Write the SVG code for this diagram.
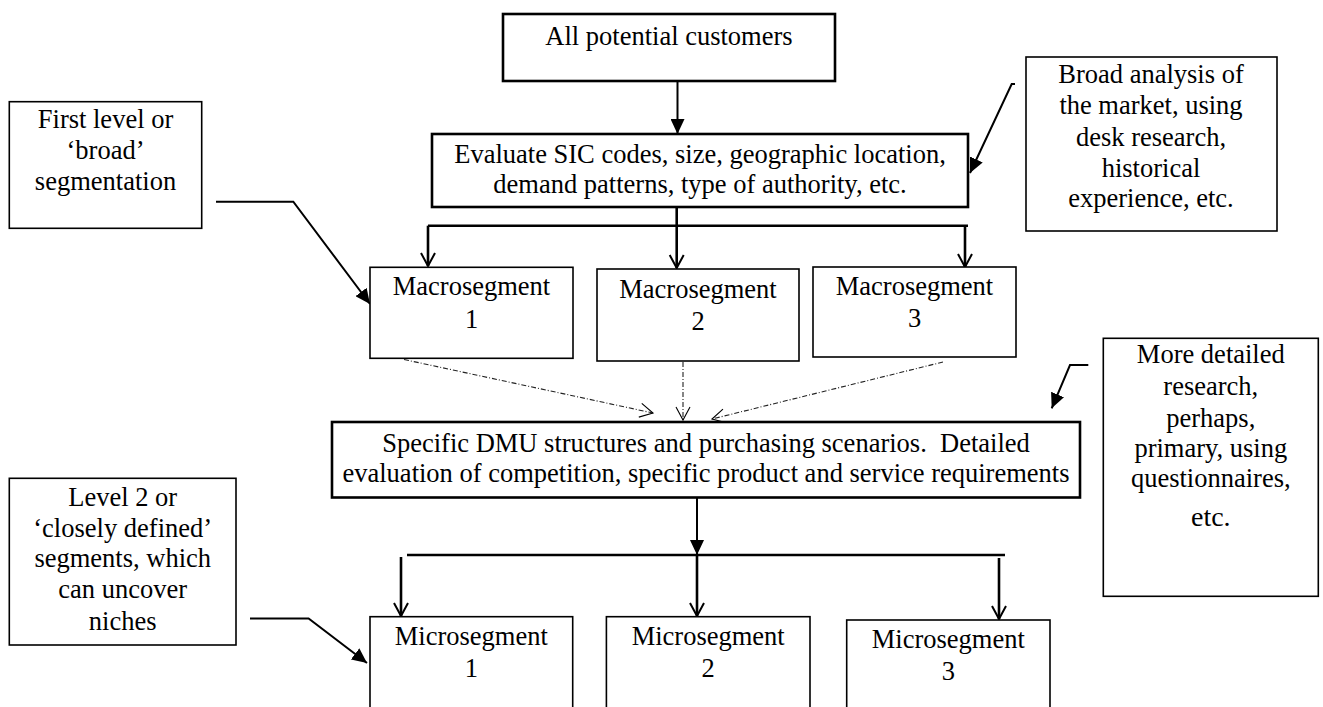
<svg xmlns="http://www.w3.org/2000/svg" width="1323" height="707" viewBox="0 0 1323 707">
  <style>
    .box { fill: #ffffff; stroke: #000000; stroke-width: 1.6; }
    .box-bold { fill: #ffffff; stroke: #000000; stroke-width: 2.6; }
    text { font-family: "Liberation Serif", "Times New Roman", serif; font-size: 26.5px; fill: #000000; text-anchor: middle; }
    .wire { fill: none; stroke: #000000; stroke-width: 2; }
    .wire-bold { fill: none; stroke: #000000; stroke-width: 2.6; }
    .dash { fill: none; stroke: #222222; stroke-width: 1.1; stroke-dasharray: 5 2 1 2; }
  </style>
  <defs>
    <marker id="solid" markerUnits="userSpaceOnUse" markerWidth="16" markerHeight="14" refX="15" refY="7" orient="auto">
      <path d="M0,0 L15,7 L0,14 z" fill="#000000"/>
    </marker>
    <marker id="open" markerUnits="userSpaceOnUse" markerWidth="16" markerHeight="18" refX="14" refY="8" orient="auto">
      <path d="M1,1 L14,8 L1,15" fill="none" stroke="#000000" stroke-width="2"/>
    </marker>
    <marker id="open-thin" markerUnits="userSpaceOnUse" markerWidth="16" markerHeight="18" refX="14" refY="8" orient="auto">
      <path d="M1,1 L14,8 L1,15" fill="none" stroke="#000000" stroke-width="1.1"/>
    </marker>
  </defs>

  <!-- connectors -->
  <g id="connectors">
    <line class="wire" x1="677.5" y1="81" x2="677.5" y2="134" marker-end="url(#solid)"/>
    <line class="wire-bold" x1="676.7" y1="207" x2="676.7" y2="268" marker-end="url(#open)"/>
    <line class="wire-bold" x1="428" y1="225.7" x2="968" y2="225.7"/>
    <line class="wire-bold" x1="428" y1="225.7" x2="428" y2="266" marker-end="url(#open)"/>
    <line class="wire-bold" x1="965" y1="225.7" x2="965" y2="267" marker-end="url(#open)"/>
    <polyline class="wire" points="216,201.7 293.3,201.7 370,304" marker-end="url(#solid)"/>
    <polyline class="wire" points="1015,84 1011.7,84 970,173" marker-end="url(#solid)"/>
    <line class="dash" x1="404" y1="359.5" x2="653" y2="413" marker-end="url(#open-thin)"/>
    <line class="dash" x1="683" y1="362" x2="683" y2="420" marker-end="url(#open-thin)"/>
    <line class="dash" x1="943" y1="362" x2="712" y2="419" marker-end="url(#open-thin)"/>
    <polyline class="wire" points="1088.3,365 1070,365 1051.7,408.3" marker-end="url(#solid)"/>
    <line class="wire" x1="697" y1="497.5" x2="697" y2="555" marker-end="url(#solid)"/>
    <line class="wire-bold" x1="407" y1="555" x2="1005" y2="555"/>
    <line class="wire-bold" x1="697" y1="555" x2="697" y2="616" marker-end="url(#open)"/>
    <line class="wire-bold" x1="401" y1="557" x2="401" y2="616" marker-end="url(#open)"/>
    <line class="wire-bold" x1="999" y1="558" x2="999" y2="619" marker-end="url(#open)"/>
    <polyline class="wire" points="250,618.5 308.6,618.5 367,663" marker-end="url(#solid)"/>
  </g>

  <g id="all-customers">
    <rect class="box-bold" x="503" y="14" width="332" height="67"/>
    <text x="669" y="45">All potential customers</text>
  </g>

  <g id="evaluate">
    <rect class="box-bold" x="432" y="134" width="536" height="73"/>
    <text x="700" y="162.7">Evaluate SIC codes, size, geographic location,</text>
    <text x="700" y="193.3">demand patterns, type of authority, etc.</text>
  </g>

  <g id="first-level">
    <rect class="box" x="9.3" y="101.7" width="192.4" height="126.6"/>
    <text x="105.5" y="128.3">First level or</text>
    <text x="105.5" y="159.3">‘broad’</text>
    <text x="105.5" y="190">segmentation</text>
  </g>

  <g id="broad-analysis">
    <rect class="box" x="1026" y="57" width="251" height="174"/>
    <text x="1151" y="83.3">Broad analysis of</text>
    <text x="1151" y="114.3">the market, using</text>
    <text x="1151" y="145.7">desk research,</text>
    <text x="1151" y="176.7">historical</text>
    <text x="1151" y="207.3">experience, etc.</text>
  </g>

  <g id="macro-1">
    <rect class="box" x="370" y="267.3" width="203" height="91"/>
    <text x="471.5" y="295">Macrosegment</text>
    <text x="471.5" y="328">1</text>
  </g>

  <g id="macro-2">
    <rect class="box" x="597" y="269" width="202" height="92"/>
    <text x="698" y="298">Macrosegment</text>
    <text x="698" y="330">2</text>
  </g>

  <g id="macro-3">
    <rect class="box" x="813" y="267" width="203" height="90"/>
    <text x="914.5" y="295">Macrosegment</text>
    <text x="914.5" y="327">3</text>
  </g>

  <g id="more-detailed">
    <rect class="box" x="1103.3" y="338.3" width="215" height="258"/>
    <text x="1210.8" y="363.3">More detailed</text>
    <text x="1210.8" y="395">research,</text>
    <text x="1210.8" y="426.7">perhaps,</text>
    <text x="1210.8" y="456.7">primary, using</text>
    <text x="1210.8" y="486.7">questionnaires,</text>
    <text x="1210.8" y="526" style="font-size:28px">etc.</text>
  </g>

  <g id="dmu-scenarios">
    <rect class="box-bold" x="332" y="422" width="748" height="75.5"/>
    <text x="706" y="451.7" xml:space="preserve">Specific DMU structures and purchasing scenarios.  Detailed</text>
    <text x="706" y="481.7">evaluation of competition, specific product and service requirements</text>
  </g>

  <g id="level-two">
    <rect class="box" x="9.3" y="478.3" width="226.7" height="166.7"/>
    <text x="122.7" y="506">Level 2 or</text>
    <text x="122.7" y="536.7">‘closely defined’</text>
    <text x="122.7" y="566.7">segments, which</text>
    <text x="122.7" y="598">can uncover</text>
    <text x="122.7" y="630">niches</text>
  </g>

  <g id="micro-1">
    <rect class="box" x="370" y="616.7" width="202.7" height="110"/>
    <text x="471.3" y="645">Microsegment</text>
    <text x="471.3" y="676.7">1</text>
  </g>

  <g id="micro-2">
    <rect class="box" x="606.4" y="616.7" width="203.6" height="110"/>
    <text x="708.2" y="645">Microsegment</text>
    <text x="708.2" y="676.7">2</text>
  </g>

  <g id="micro-3">
    <rect class="box" x="846.7" y="620" width="203.3" height="110"/>
    <text x="948.3" y="648">Microsegment</text>
    <text x="948.3" y="680">3</text>
  </g>
</svg>
